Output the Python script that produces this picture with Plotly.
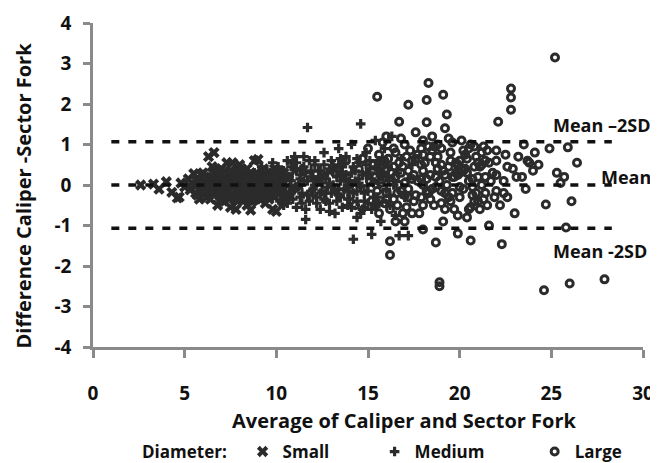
import plotly.graph_objects as go

# ---------------- data ----------------
small_x = [2.6, 3.3, 3.6, 4.0, 4.3, 4.6, 4.7, 4.8, 5.0, 5.2, 5.3, 5.5, 5.6, 5.7, 5.8, 5.9, 6.0, 6.1, 6.2,
           6.3, 6.6, 6.4, 6.5, 6.6, 6.7, 6.8, 6.8, 6.9, 7.0, 7.0, 7.1, 7.2, 7.3, 7.3, 7.4, 7.5, 7.5, 7.6,
           7.6, 7.7, 7.8, 7.8, 7.9, 8.0, 8.0, 8.1, 8.2, 8.3, 8.4, 8.5, 8.6, 8.6, 8.7, 8.8, 8.9, 9.0, 9.0,
           9.1, 9.2, 9.3, 9.4, 9.5, 9.6, 9.7, 9.8, 9.9, 10.0, 10.0, 10.1, 10.3, 10.5, 10.7, 10.9,
           5.4, 6.2, 6.9, 7.2, 7.7, 8.3, 8.8, 9.4, 6.0, 7.4, 8.1]
small_y = [0.00, 0.02, -0.10, 0.08, -0.18, -0.32, -0.30, 0.05, -0.05, 0.15, -0.12, 0.28, -0.20, 0.02, -0.35, 0.10,
           -0.08, 0.20, -0.30, 0.70, 0.80, 0.05, -0.15, 0.30, -0.02, 0.12, -0.50, -0.22, 0.40, 0.00, -0.40, 0.18,
           -0.10, 0.55, 0.05, -0.55, 0.25, -0.05, 0.55, 0.10, -0.25, -0.60, 0.35, -0.12, 0.50, 0.02, -0.35, 0.20,
           -0.50, 0.08, 0.30, -0.62, -0.18, 0.60, 0.00, -0.30, 0.63, 0.15, -0.08, 0.40, -0.45, 0.10, -0.20, 0.25,
           -0.60, 0.05, 0.35, -0.65, -0.15, 0.12, -0.30, 0.20, -0.05,
           0.05, 0.10, 0.15, -0.20, 0.20, 0.00, -0.10, 0.20, 0.10, -0.15, 0.10]
small_x_dense = [5.6, 5.9, 6.1, 6.3, 6.5, 6.7, 6.9, 7.1, 7.3, 7.5, 7.7, 7.9, 8.1, 8.3, 8.5, 8.7, 8.9, 9.1, 9.3,
                 9.5, 9.7, 9.9, 10.1, 10.3,
                 5.8, 6.2, 6.6, 7.0, 7.4, 7.8, 8.2, 8.6, 9.0, 9.4, 9.8, 10.2, 10.6,
                 6.4, 6.8, 7.2, 7.6, 8.0, 8.4, 8.8, 9.2, 9.6, 10.0, 10.4,
                 7.1, 7.9, 8.5, 9.3]
small_y_dense = [0.12, -0.10, 0.05, -0.20, 0.18, -0.05, 0.25, -0.15, 0.10, -0.30, 0.20, 0.00, -0.20, 0.30, -0.10,
                 0.15, -0.25, 0.05, -0.15, 0.30, 0.00, -0.30, 0.20, -0.10,
                 0.00, -0.12, 0.10, -0.22, 0.30, 0.08, 0.12, -0.05, 0.22, 0.00, -0.10, 0.15, -0.20,
                 -0.05, 0.20, -0.30, 0.02, 0.25, -0.18, 0.10, -0.35, 0.05, -0.05, 0.30,
                 -0.25, 0.40, -0.38, 0.35]
small_x_core = [5.7, 6.0, 6.3, 6.6, 6.9, 7.2, 7.5, 7.8, 8.1, 8.4, 8.7, 9.0, 9.3, 9.6, 9.9, 10.2,
                5.9, 6.4, 6.9, 7.4, 7.9, 8.4, 8.9, 9.4, 9.9, 10.4,
                6.1, 6.7, 7.3, 7.9, 8.5, 9.1, 9.7, 10.3,
                6.5, 7.1, 7.7, 8.3, 8.9, 9.5]
small_y_core = [-0.25, 0.30, -0.10, 0.20, -0.40, 0.05, 0.35, -0.15, 0.40, 0.10, -0.40, 0.25, 0.30, -0.35, 0.15, 0.35,
                0.25, -0.35, 0.35, -0.30, -0.40, 0.40, 0.30, -0.20, 0.40, 0.05,
                -0.15, 0.40, -0.25, 0.15, 0.20, -0.35, -0.25, -0.30,
                0.45, 0.10, -0.35, -0.10, -0.20, 0.15]

medium_x = [8.2, 8.5, 8.8, 9.0, 9.2, 9.4, 9.5, 9.7, 9.8, 10.0, 10.1, 10.2, 10.3, 10.4, 10.5, 10.6, 10.7, 10.8,
            10.9, 11.0, 11.1, 11.2, 11.3, 11.4, 11.5, 11.6, 11.7, 11.7, 11.8, 11.9, 12.0, 12.1, 12.2, 12.3,
            12.4, 12.5, 12.6, 12.7, 12.8, 12.9, 13.0, 13.1, 13.2, 13.3, 13.4, 13.5, 13.6, 13.7, 13.8, 13.9,
            14.0, 14.1, 14.2, 14.2, 14.3, 14.4, 14.5, 14.6, 14.6, 14.7, 14.8, 14.9, 15.0, 15.1, 15.2, 15.2,
            15.3, 15.4, 15.5, 15.6, 15.7, 15.8, 15.9, 16.0, 16.1, 16.2, 16.3, 16.4, 16.5, 16.6, 16.7, 16.8,
            17.0, 17.2, 17.2, 17.4,
            10.0, 10.5, 11.0, 11.5, 12.0, 12.5, 13.0, 13.5, 14.0, 14.5, 15.0, 9.5, 12.2, 12.8, 13.3, 11.3,
            10.8, 11.8, 12.4, 13.8, 9.9, 10.6, 11.4, 12.6, 13.6, 14.4]
medium_y = [0.10, -0.20, 0.30, -0.05, 0.45, -0.35, 0.15, -0.10, 0.55, -0.25, 0.05, 0.30, -0.45, 0.20, -0.05,
            0.60, -0.30, 0.10, -0.15, 0.40, -0.55, 0.00, 0.25, -0.20, 0.70, -0.85, 1.42, 0.10, -0.40, 0.35,
            -0.10, 0.50, -0.30, 0.15, -0.60, 0.05, 0.80, -0.20, 0.30, -0.45, 0.60, 0.00, -0.70, 0.20, 0.90,
            -0.30, 0.45, -0.10, 0.70, -0.50, 0.10, 1.00, -1.34, -0.20, 0.35, -0.80, 0.55, 1.51, -0.05, 0.25,
            -0.40, 0.80, -0.15, 0.40, -1.22, -0.60, 0.05, 1.10, -0.30, 0.60, -0.90, 0.20, 0.90, -0.10, 0.45,
            -0.50, 1.20, 0.00, -0.75, 0.30, -1.25, 0.65, -0.30, -1.25, 0.15, 0.50,
            0.15, 0.25, -0.10, 0.10, 0.20, -0.15, -0.20, 0.10, -0.35, 0.15, 0.30, -0.25, 0.05, -0.05, -0.40,
            -0.30, 0.45, 0.60, 0.35, 0.25, 0.20, -0.35, 0.40, 0.50, 0.30, -0.15]
medium_x_dense = [9.6, 10.2, 10.7, 11.2, 11.6, 12.0, 12.3, 12.7, 13.1, 13.4, 13.7, 14.1, 14.5, 14.9, 15.3, 15.7,
                  9.9, 10.4, 10.9, 11.5, 12.1, 12.6, 13.2, 13.7, 14.3, 14.8, 15.4, 16.0,
                  10.3, 10.8, 11.3, 11.9, 12.4, 12.9, 13.4, 13.9, 14.4, 15.0, 15.6, 16.2,
                  11.1, 12.2, 13.5, 14.7]
medium_y_dense = [0.05, -0.15, 0.20, -0.05, 0.30, -0.25, 0.10, -0.40, 0.35, -0.10, 0.15, -0.55, 0.05, 0.50, -0.30, 0.30,
                  -0.20, 0.35, -0.35, 0.45, 0.00, 0.25, -0.15, 0.55, 0.10, -0.20, 0.45, 0.20,
                  0.00, -0.20, 0.15, -0.15, 0.20, 0.40, -0.25, 0.00, 0.65, -0.45, 0.05, -0.25,
                  0.55, -0.45, 0.30, -0.60]
medium_x_core = [10.1, 10.6, 11.1, 11.6, 12.1, 12.6, 13.1, 13.6, 14.1, 14.6, 15.1, 15.6,
                 10.4, 10.9, 11.4, 11.9, 12.4, 12.9, 13.4, 13.9, 14.4, 14.9, 15.4, 15.9,
                 10.2, 11.0, 11.7, 12.3, 12.9, 13.5, 14.2, 14.8, 15.5, 16.1,
                 11.3, 12.7, 13.9, 15.2]
medium_y_core = [0.45, -0.45, 0.35, -0.60, 0.60, -0.35, 0.45, -0.55, 0.30, -0.70, 0.60, -0.45,
                 -0.50, 0.55, -0.45, 0.20, -0.20, 0.05, 0.50, -0.35, -0.40, 0.25, -0.50, 0.50,
                 -0.40, 0.70, -0.25, 0.35, -0.65, 0.65, 0.45, -0.55, 0.30, 0.10,
                 0.00, 0.15, -0.15, 0.15]

large_x = [13.2, 13.5, 13.8, 14.0, 14.3, 14.5, 14.8, 15.0, 15.2, 15.4, 15.5, 15.6, 15.8, 16.0, 16.0, 16.2,
           16.2, 16.3, 16.5, 16.6, 16.7, 16.8, 17.0, 17.0, 17.2, 17.2, 17.4, 17.5, 17.6, 17.7, 17.8, 17.9,
           18.0, 18.0, 18.2, 18.2, 18.3, 18.3, 18.4, 18.5, 18.6, 18.7, 18.7, 18.8, 18.9, 18.9, 19.0, 19.1,
           19.1, 19.2, 19.3, 19.3, 19.4, 19.5, 19.6, 19.7, 19.8, 19.9, 20.0, 20.1, 20.2, 20.3, 20.4, 20.5,
           20.6, 20.7, 20.8, 20.9, 21.0, 21.1, 21.2, 21.4, 21.5, 21.6, 21.8, 22.0, 22.1, 22.2, 22.3, 22.4,
           22.5, 22.6, 22.8, 22.8, 22.8, 22.9, 23.0, 23.2, 23.4, 23.6, 23.8, 24.0, 24.1, 24.3, 24.6, 24.7,
           25.2, 25.3, 25.5, 25.8, 25.9, 26.0, 26.1, 26.4, 27.9,
           15.3, 15.7, 16.1, 16.4, 16.9, 17.1, 17.3, 17.6, 17.9, 18.1, 18.5, 18.8, 19.0, 19.2, 19.6, 19.9,
           20.2, 20.5, 20.8, 21.3, 21.7, 22.0, 17.0, 18.0, 19.5, 16.5, 20.0, 21.0, 15.5, 14.7,
           15.8, 16.8, 18.0, 18.6, 19.4, 20.6, 21.3, 23.5, 24.9, 25.7]
large_y = [0.30, -0.20, 0.60, 0.00, -0.50, 0.40, -0.10, 0.90, -0.40, 0.20, 2.18, -0.70, 0.50, 1.20, -0.20,
           -1.39, -1.73, 0.10, 0.80, -0.50, 1.56, 0.30, -0.90, 1.00, 1.98, -0.10, 0.60, -0.40, 1.30, 0.10,
           -0.70, 0.90, -1.10, 0.35, 2.10, 1.55, 2.52, -0.20, 0.70, 1.20, -0.50, -1.42, 0.20, 1.00, -2.40,
           -2.50, 0.50, 2.23, -0.90, 1.40, 1.74, 0.00, -0.30, 0.80, 1.05, -0.60, 0.30, -1.20, 0.60, 1.10,
           -0.10, 0.40, -0.80, 0.90, -1.37, 0.15, -0.40, 0.70, 0.20, -0.60, 0.50, -0.20, 0.85, -1.00, 0.30,
           0.60, 1.56, -0.50, -1.46, 0.10, 0.75, -0.30, 2.38, 2.16, 1.86, 0.40, -0.70, 0.70, 0.20, -0.10,
           0.55, 0.35, 0.80, 0.50, -2.60, -0.48, 3.15, 0.30, 0.05, -1.05, 0.93, -2.43, -0.40, 0.55, -2.33,
           0.50, 0.05, 0.65, -0.35, 0.45, -0.55, 0.85, -0.25, 0.15, 0.55, -0.10, 0.40, -0.45, 0.25, -0.20,
           0.50, 0.85, 0.10, 0.45, -0.35, 0.10, -0.15, 0.05, 0.75, 0.60, 0.20, -0.30, 0.55, -0.15, 0.65,
           1.05, 1.15, 1.10, 0.95, 1.15, 1.00, 0.95, 1.00, 0.90, 0.20]
large_x_dense = [15.1, 15.6, 16.0, 16.4, 16.8, 17.2, 17.6, 18.0, 18.4, 18.8, 19.2, 19.6, 20.0, 20.4, 20.8, 21.2,
                 21.6, 22.0, 22.4,
                 15.9, 16.3, 16.7, 17.1, 17.5, 17.9, 18.3, 18.7, 19.1, 19.5, 19.9, 20.3, 20.7, 21.1, 21.5,
                 16.6, 17.4, 18.2, 19.0, 19.8, 20.6, 21.4, 22.6, 23.1, 23.7]
large_y_dense = [0.10, 0.75, -0.35, 0.90, -0.15, 0.35, 0.65, -0.50, 0.25, 0.70, -0.60, 0.20, -0.05, 0.65, 0.95,
                 0.00, 0.55, 0.25, -0.20,
                 -0.45, 0.30, 0.00, 0.70, 0.25, -0.30, 0.95, -0.05, 0.35, -0.40, 0.25, 0.75, -0.25, 0.45, -0.50,
                 -0.20, -0.70, 0.15, 0.90, 0.55, -0.55, 0.20, 0.45, 0.20, 0.60]
large_x_core = [15.4, 15.9, 16.4, 16.9, 17.4, 17.9, 18.4, 18.9, 19.4, 19.9, 20.4, 20.9, 21.4, 21.9,
                15.7, 16.2, 16.7, 17.2, 17.7, 18.2, 18.7, 19.2, 19.7, 20.2, 20.7, 21.2,
                16.0, 17.0, 18.0, 19.0, 20.0, 21.0, 22.0,
                16.5, 18.5, 20.5]
large_y_core = [-0.50, 0.60, 0.45, -0.70, 0.15, 0.50, -0.35, 0.10, 0.45, -0.75, 0.30, -0.20, 0.60, -0.30,
                0.30, -0.60, 0.55, -0.30, 0.75, -0.15, 0.55, -0.20, 0.20, 0.35, -0.05, 0.80,
                0.40, -0.25, 0.00, -0.15, 0.30, -0.40, 0.85,
                -0.90, 0.85, -0.60]

mean_diff = 0.0
upper_loa = 1.07
lower_loa = -1.07
line_x_start = 1.0
line_x_end = 28.3

x_tickvals = [0, 5, 10, 15, 20, 25, 30]
y_tickvals = [4, 3, 2, 1, 0, -1, -2, -3, -4]
y_ticktext = ["4", "3", "2", "1", "0", "-1", "-2", "-3", "-4"]

# ---------------- figure ----------------
FONT = "Open Sans, Lato, sans-serif"
MARK = "#2b2b2b"
TXT = "#111111"

fig = go.Figure()
fig.add_trace(go.Scatter(x=small_x + small_x_dense + small_x_core, y=small_y + small_y_dense + small_y_core,
                         mode="markers", name="Small", legend="legend",
                         marker=dict(symbol="x", size=10, color=MARK, line=dict(width=0))))
fig.add_trace(go.Scatter(x=medium_x + medium_x_dense + medium_x_core, y=medium_y + medium_y_dense + medium_y_core,
                         mode="markers", name="Medium", legend="legend2",
                         marker=dict(symbol="cross", size=8, color=MARK, line=dict(width=0))))
fig.add_trace(go.Scatter(x=large_x + large_x_dense + large_x_core, y=large_y + large_y_dense + large_y_core,
                         mode="markers", name="Large", legend="legend3",
                         marker=dict(symbol="circle-open", size=7, color=MARK,
                                     line=dict(width=3, color=MARK))))

for yv in (upper_loa, mean_diff, lower_loa):
    fig.add_shape(type="line", xref="x", yref="y", x0=line_x_start, x1=line_x_end, y0=yv, y1=yv,
                  line=dict(color=TXT, width=3.5, dash="8px,9px"), layer="above")

ann_font = dict(family=FONT, size=18, color=TXT, weight="bold")
fig.add_annotation(x=25.0, y=1.49, text="Mean –2SD", showarrow=False, xanchor="left", font=ann_font)
fig.add_annotation(x=27.6, y=0.19, text="Mean", showarrow=False, xanchor="left", font=ann_font)
fig.add_annotation(x=25.0, y=-1.63, text="Mean -2SD", showarrow=False, xanchor="left", font=ann_font)

tick_font = dict(family=FONT, size=19, color=TXT, weight="bold")
leg_font = dict(family=FONT, size=17, color=TXT, weight="bold")

fig.update_xaxes(range=[0, 30], tickvals=x_tickvals, showgrid=False, zeroline=False,
                 showline=True, linecolor="#8a8a8a", linewidth=2.5,
                 ticks="outside", ticklen=8, tickwidth=2.5, tickcolor="#8a8a8a",
                 tickfont=tick_font, ticklabelstandoff=19)
fig.update_yaxes(range=[-4, 4], tickvals=y_tickvals, ticktext=y_ticktext, showgrid=False, zeroline=False,
                 showline=True, linecolor="#8a8a8a", linewidth=2.5,
                 ticks="outside", ticklen=7, tickwidth=2.5, tickcolor="#8a8a8a",
                 tickfont=tick_font, ticklabelstandoff=8)

# axis titles (placed as in the reference, slightly off-centre)
fig.add_annotation(xref="paper", yref="paper", x=0.567, y=-0.226, xanchor="center", yanchor="middle",
                   text="Average of Caliper and Sector Fork", showarrow=False,
                   font=dict(family=FONT, size=20, color=TXT, weight="bold"))
fig.add_annotation(xref="paper", yref="paper", x=-0.1265, y=0.469, xanchor="center", yanchor="middle",
                   text="Difference Caliper -Sector Fork", showarrow=False, textangle=-90,
                   font=dict(family=FONT, size=20, color=TXT, weight="bold"))

fig.add_annotation(xref="paper", yref="paper", x=0.0855, y=-0.324, xanchor="left", yanchor="middle",
                   text="Diameter:", showarrow=False, font=leg_font)

leg_common = dict(orientation="h", y=-0.324, yanchor="middle", xanchor="left", font=leg_font,
                  itemwidth=30, bgcolor="rgba(0,0,0,0)")

# the page adds an 8px body margin, so the figure is 8px smaller and shifted accordingly
fig.update_layout(
    width=650, height=455,
    margin=dict(l=85, r=15, t=15, b=116, autoexpand=False),
    paper_bgcolor="white", plot_bgcolor="white",
    showlegend=True,
    legend=dict(x=0.272, **leg_common),
    legend2=dict(x=0.512, **leg_common),
    legend3=dict(x=0.803, **leg_common),
)

fig.write_html("out.html")
